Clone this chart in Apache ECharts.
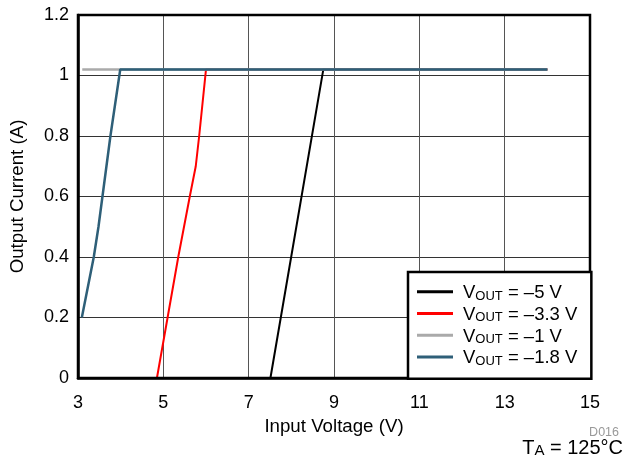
<!DOCTYPE html>
<html>
<head>
<meta charset="utf-8">
<script src="https://cdn.jsdelivr.net/npm/echarts@6/dist/echarts.min.js"></script>
<style>html,body{margin:0;padding:0;background:#fff}#c{width:627px;height:469px}</style>
</head>
<body>
<div id="c"></div>
<script>
var seriesNames = ['V_OUT = \u20135 V', 'V_OUT = \u20133.3 V', 'V_OUT = \u20131 V', 'V_OUT = \u20131.8 V'];
var seriesColors = ['#000000', '#ff0000', '#aaaaaa', '#2e5f78'];
var vout5 = [[7.51, 0], [8.75, 1.02], [14.0, 1.02]];
var vout33 = [[4.85, 0], [5.10, 0.2], [5.35, 0.4], [5.62, 0.6], [5.76, 0.7], [5.84, 0.8], [6.0, 1.02], [14.0, 1.02]];
var vout1 = [[3.1, 1.02], [14.0, 1.02]];
var vout18 = [[3.09, 0.2], [3.37, 0.4], [3.48, 0.5], [3.76, 0.8], [3.99, 1.02], [14.0, 1.02]];
var seriesData = [vout5, vout33, vout1, vout18];
var xTicks = [3, 5, 7, 9, 11, 13, 15];
var yTicks = [0, 0.2, 0.4, 0.6, 0.8, 1, 1.2];

var chart = echarts.init(document.getElementById('c'));
var font = 'Liberation Sans, Arial, sans-serif';
var widths = [2, 2, 2.5, 2.5];
var series = seriesNames.map(function (n, i) {
  return {
    name: n, type: 'line', data: seriesData[i], symbol: 'none',
    lineStyle: { color: seriesColors[i], width: widths[i] }, itemStyle: { color: seriesColors[i] },
    z: 3 + i, animation: false
  };
});
chart.setOption({
  animation: false,
  grid: { left: 77, right: 37, top: 15, bottom: 91, show: true, borderColor: '#000', borderWidth: 2.5, z: 10 },
  xAxis: {
    type: 'value', min: xTicks[0], max: xTicks[xTicks.length - 1], interval: 2,
    name: 'Input Voltage (V)', nameLocation: 'middle', nameGap: 37,
    nameTextStyle: { fontFamily: font, fontSize: 18.7, color: '#000' },
    axisLine: { lineStyle: { color: '#000', width: 2.5 } },
    axisTick: { show: false },
    axisLabel: { fontFamily: font, fontSize: 18, color: '#000', margin: 16 },
    splitLine: { show: true, lineStyle: { color: '#555', width: 1 } }
  },
  yAxis: {
    type: 'value', min: yTicks[0], max: yTicks[yTicks.length - 1], interval: 0.2,
    name: 'Output Current (A)', nameLocation: 'middle', nameGap: 51,
    nameTextStyle: { fontFamily: font, fontSize: 18.7, color: '#000' },
    axisLine: { lineStyle: { color: '#000', width: 2.5 } },
    axisTick: { show: false },
    axisLabel: { fontFamily: font, fontSize: 18, color: '#000', margin: 9,
      formatter: function (v) { return String(Math.round(v * 10) / 10); } },
    splitLine: { show: true, lineStyle: { color: '#333', width: 1 } }
  },
  legend: {
    data: seriesNames, orient: 'vertical', left: 408, top: 272,
    padding: [9, 14, 11, 9], itemGap: 0, itemWidth: 36, itemHeight: 3,
    icon: 'rect', backgroundColor: '#fff', borderColor: '#000', borderWidth: 2.5,
    z: 20,
    formatter: function (n) { return n.replace('V_OUT', '{v|V}{s|OUT}{v|') + '}'; },
    textStyle: {
      fontFamily: font, fontSize: 18.5, color: '#000', lineHeight: 21.7, padding: [0, 0, 0, 5],
      rich: {
        v: { fontFamily: font, fontSize: 18.5, color: '#000', lineHeight: 21.7, verticalAlign: 'bottom' },
        s: { fontFamily: font, fontSize: 13, color: '#000', lineHeight: 21.7, verticalAlign: 'bottom', padding: [4, 0, 0, 0] }
      }
    }
  },
  graphic: [
    { type: 'text', right: 8, top: 426, style: { text: 'D016', fontFamily: font, fontSize: 12.5, fill: '#999' } },
    { type: 'text', right: 4, top: 438, style: { text: '{t|T}{s|A}{t| = 125\u00b0C}', fontFamily: font,
      rich: { t: { fontFamily: font, fontSize: 20, fill: '#000', lineHeight: 23, verticalAlign: 'bottom' },
              s: { fontFamily: font, fontSize: 15, fill: '#000', lineHeight: 23, verticalAlign: 'bottom', padding: [5, 0, 0, 0] } } } }
  ],
  series: series
});
</script>
</body>
</html>
